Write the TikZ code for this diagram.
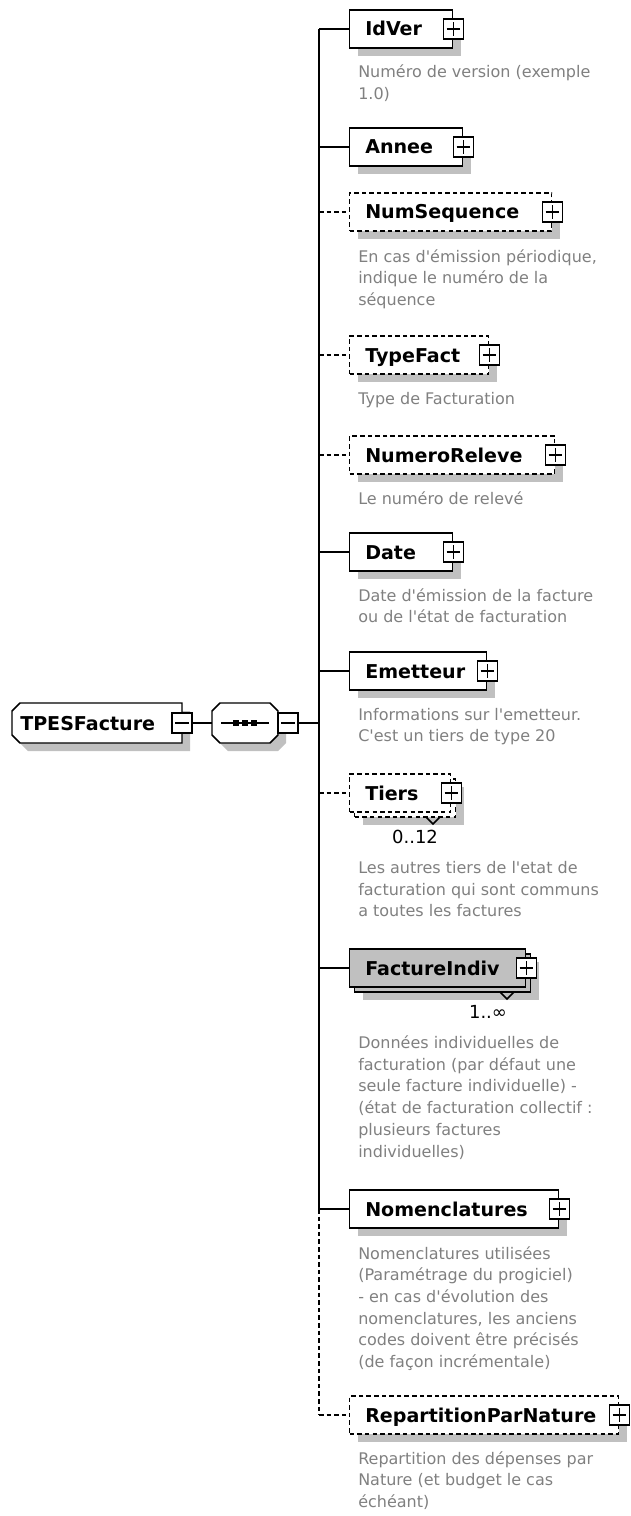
\documentclass[tikz,border=0pt]{standalone}
\usepackage{fontspec}
\setmainfont{DejaVu Sans}[Ligatures=TeXOff]
\usetikzlibrary{shadows}
\definecolor{descgray}{RGB}{128,128,128}
\definecolor{shgray}{RGB}{192,192,192}
\definecolor{boxgray}{RGB}{192,192,192}
\newcommand{\lblfont}{\fontsize{14.3pt}{16pt}\selectfont\bfseries}
\newcommand{\descfont}{\fontsize{12pt}{14pt}\selectfont}
\newcommand{\cardfont}{\fontsize{13.5pt}{15pt}\selectfont}
\newcommand{\elemnode}[5]{%
  \coordinate (s#1) at (319,#2);
  \node[elem,shad,#5,minimum width={(#3-349)*0.75pt}] (#1) at (349,#2) {};
  \node[pbox] (#1P) at (#1.east) {};
  \node[lbl] (#1L) at (365,#2+7) {#4};
  \draw[ln,#5] (s#1) -- (#1.west);
}
\newcommand{\dline}[3]{\node[desc] (#1) at (358,#2) {#3};}
\begin{document}
\begin{tikzpicture}[x=0.75pt,y=-0.75pt,
  ln/.style={line width=1.1pt},
  dsh/.style={dash pattern=on 3.4pt off 2.3pt},
  shad/.style={drop shadow={shadow xshift=6pt,shadow yshift=-6pt,fill=shgray,opacity=1}},
  elem/.style={draw,line width=1.1pt,fill=white,rectangle,inner sep=0pt,minimum height=28.5pt,anchor=west},
  pbox/.style={draw,fill=white,line width=1.1pt,minimum size=15pt,inner sep=0pt,
    path picture={\draw[line width=1.1pt] ([xshift=2.4pt]path picture bounding box.west) -- ([xshift=-2.4pt]path picture bounding box.east);
                  \draw[line width=1.1pt] ([yshift=-2.4pt]path picture bounding box.north) -- ([yshift=2.4pt]path picture bounding box.south);}},
  mbox/.style={draw,fill=white,line width=1.1pt,minimum size=15pt,inner sep=0pt,
    path picture={\draw[line width=1.1pt] ([xshift=2.4pt]path picture bounding box.west) -- ([xshift=-2.4pt]path picture bounding box.east);}},
  lbl/.style={anchor=base west,inner sep=0pt,font=\lblfont},
  desc/.style={anchor=base west,inner sep=0pt,font=\descfont,text=descgray},
  card/.style={anchor=base,inner sep=0pt,font=\cardfont},
]
\useasboundingbox (0,0) rectangle (631,1516);

% ---------- root element and sequence compositor ----------
\begin{scope}[shift={(8,8)}]
  \fill[shgray] (20,703) -- (182,703) -- (182,743) -- (20,743) -- (12,735) -- (12,711) -- cycle;
  \fill[shgray] (220,703) -- (270,703) -- (278,711) -- (278,735) -- (270,743) -- (220,743) -- (212,735) -- (212,711) -- cycle;
\end{scope}
\draw[ln,fill=white] (20,703) -- (182,703) -- (182,743) -- (20,743) -- (12,735) -- (12,711) -- cycle;
\node[lbl] (TPES) at (20,730) {TPESFacture};
\node[mbox] (TPESM) at (182,723) {};
\node[inner sep=0pt,minimum width=49.5pt,minimum height=30pt,anchor=west] (seq) at (212,723) {};
\draw[ln,fill=white] (220,703) -- (270,703) -- (278,711) -- (278,735) -- (270,743) -- (220,743) -- (212,735) -- (212,711) -- cycle;
\draw[ln] (221,723) -- (269,723);
\foreach \dx in {236,245,254} \fill (\dx-2.7,720.3) rectangle (\dx+2.7,725.7);
\node[mbox] (seqM) at (288,723) {};
\coordinate (sMid) at (319,723);
\draw[ln] (TPESM.east) -- (seq.west);
\draw[ln] (seqM.east) -- (sMid);

% ---------- children ----------
\elemnode{IdVer}{29}{452}{IdVer}{}
\dline{IdVerD1}{78}{Numéro de version (exemple}
\dline{IdVerD2}{99.7}{1.0)}

\elemnode{Annee}{147}{462}{Annee}{}

\elemnode{NumSequence}{212}{551}{NumSequence}{dsh}
\dline{NumSequenceD1}{262}{En cas d'émission périodique,}
\dline{NumSequenceD2}{283.7}{indique le numéro de la}
\dline{NumSequenceD3}{305.4}{séquence}

\elemnode{TypeFact}{355}{488}{TypeFact}{dsh}
\dline{TypeFactD1}{404}{Type de Facturation}

\elemnode{NumeroReleve}{455}{554}{NumeroReleve}{dsh}
\dline{NumeroReleveD1}{504}{Le numéro de relevé}

\elemnode{Date}{552}{452}{Date}{}
\dline{DateD1}{601}{Date d'émission de la facture}
\dline{DateD2}{622.7}{ou de l'état de facturation}

\elemnode{Emetteur}{671}{486}{Emetteur}{}
\dline{EmetteurD1}{720}{Informations sur l'emetteur.}
\dline{EmetteurD2}{741.7}{C'est un tiers de type 20}

% Tiers (repeated, optional)
\coordinate (sTiers) at (319,793);
\node[elem,shad,dsh,minimum width=75.75pt] (TiersB) at (354,798) {};
\node[elem,dsh,minimum width=75.75pt] (Tiers) at (349,793) {};
\node[pbox] (TiersP) at (Tiers.east) {};
\node[lbl] (TiersL) at (365,800) {Tiers};
\draw[ln,dsh] (sTiers) -- (Tiers.west);
\draw[ln] (426,817) -- (433,824) -- (440,817);
\node[card] (TiersC) at (415,843) {0..12};
\dline{TiersD1}{873.5}{Les autres tiers de l'etat de}
\dline{TiersD2}{895.2}{facturation qui sont communs}
\dline{TiersD3}{916.9}{a toutes les factures}

% FactureIndiv (repeated, required)
\coordinate (sFactureIndiv) at (319,968);
\node[elem,shad,fill=boxgray,minimum width=132pt] (FactureIndivB) at (354,973) {};
\node[elem,fill=boxgray,minimum width=132pt] (FactureIndiv) at (349,968) {};
\node[pbox] (FactureIndivP) at (FactureIndiv.east) {};
\node[lbl] (FactureIndivL) at (365,975) {FactureIndiv};
\draw[ln] (sFactureIndiv) -- (FactureIndiv.west);
\draw[ln] (500,992) -- (507,999) -- (514,992);
\node[card] (FactureIndivC) at (488,1018) {1..∞};
\dline{FactureIndivD1}{1048.5}{Données individuelles de}
\dline{FactureIndivD2}{1070.2}{facturation (par défaut une}
\dline{FactureIndivD3}{1091.9}{seule facture individuelle) -}
\dline{FactureIndivD4}{1113.6}{(état de facturation collectif :}
\dline{FactureIndivD5}{1135.3}{plusieurs factures}
\dline{FactureIndivD6}{1157}{individuelles)}

\elemnode{Nomenclatures}{1209}{558}{Nomenclatures}{}
\dline{NomenclaturesD1}{1259}{Nomenclatures utilisées}
\dline{NomenclaturesD2}{1280.7}{(Paramétrage du progiciel)}
\dline{NomenclaturesD3}{1302.4}{- en cas d'évolution des}
\dline{NomenclaturesD4}{1324.1}{nomenclatures, les anciens}
\dline{NomenclaturesD5}{1345.8}{codes doivent être précisés}
\dline{NomenclaturesD6}{1367.5}{(de façon incrémentale)}

\elemnode{RepartitionParNature}{1415}{618}{RepartitionParNature}{dsh}
\dline{RepartitionParNatureD1}{1464}{Repartition des dépenses par}
\dline{RepartitionParNatureD2}{1485.7}{Nature (et budget le cas}
\dline{RepartitionParNatureD3}{1507.4}{échéant)}

% spine
\draw[ln] (sIdVer) -- (sNomenclatures);
\draw[ln,dsh] (sNomenclatures) -- (sRepartitionParNature);
\end{tikzpicture}
\end{document}
